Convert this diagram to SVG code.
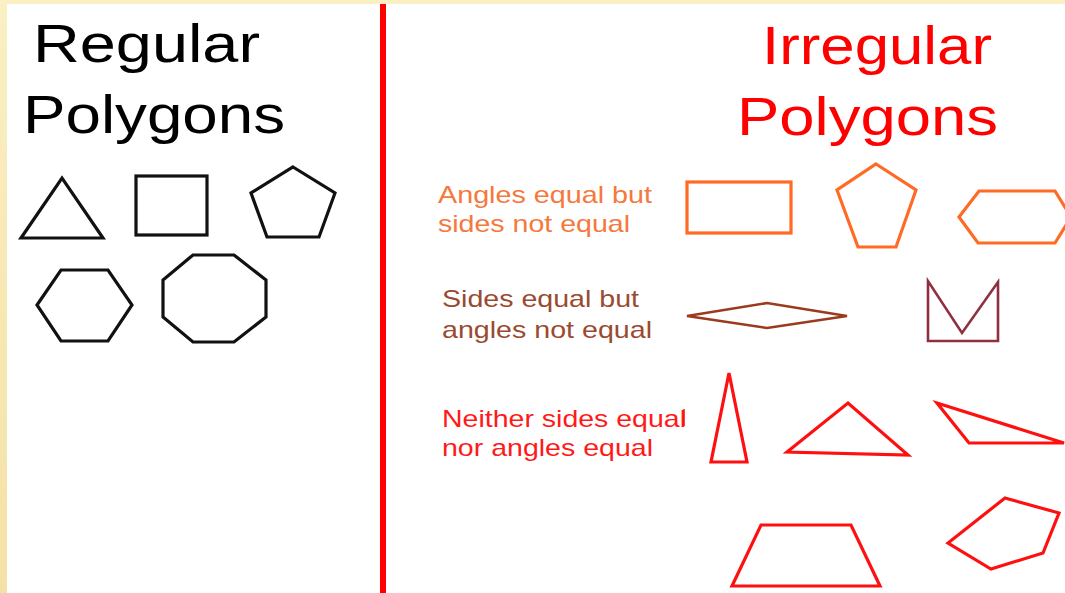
<svg xmlns="http://www.w3.org/2000/svg" width="1065" height="593" viewBox="0 0 1065 593">
<defs>
<linearGradient id="bord" x1="0" y1="0" x2="0" y2="1">
<stop offset="0" stop-color="#FBEFC4"/>
<stop offset="0.5" stop-color="#F7E8B4"/>
<stop offset="1" stop-color="#F3E2A8"/>
</linearGradient>
</defs>
<style>
text{font-family:"Liberation Sans",Arial,sans-serif}
.title{font-size:54px}
.lbl{font-size:24px}
.reg{fill:none;stroke:#111;stroke-width:3.2;stroke-linejoin:miter}
.org{fill:none;stroke:#FF6A24;stroke-width:3.2}
.brn{fill:none;stroke:#9B3A1C;stroke-width:2.6}
.mar{fill:none;stroke:#8E3040;stroke-width:2.6}
.red{fill:none;stroke:#FF1010;stroke-width:3.2}
</style>
<rect x="0" y="0" width="1065" height="593" fill="url(#bord)"/>
<rect x="7" y="4" width="1058" height="589" fill="#FFFFFF"/>
<g id="divider">
<rect x="380" y="4" width="6" height="589" fill="#FF0000"/>
</g>
<g id="regular-title">
<text class="title" x="33" y="62" fill="#000" textLength="227" lengthAdjust="spacingAndGlyphs">Regular</text>
<text class="title" x="23" y="133" fill="#000" textLength="262" lengthAdjust="spacingAndGlyphs">Polygons</text>
</g>
<g id="irregular-title">
<text class="title" x="762" y="64" fill="#FF0000" textLength="230" lengthAdjust="spacingAndGlyphs">Irregular</text>
<text class="title" x="737" y="135" fill="#FF0000" textLength="261" lengthAdjust="spacingAndGlyphs">Polygons</text>
</g>
<g id="regular-shapes">
<polygon class="reg" points="21,238 62,178 103,238"/>
<rect class="reg" x="136" y="176" width="71" height="59"/>
<polygon class="reg" points="293,167 335,193 319,237 267,237 251,193"/>
<polygon class="reg" points="37,305 61,270 108,270 132,305 108,341 61,341"/>
<polygon class="reg" points="193,255 234,255 266,280 266,317 234,342 193,342 163,317 163,280"/>
</g>
<g id="label-angles">
<text class="lbl" x="438" y="203" fill="#F5783C" textLength="214" lengthAdjust="spacingAndGlyphs">Angles equal but</text>
<text class="lbl" x="438" y="232" fill="#F5783C" textLength="192" lengthAdjust="spacingAndGlyphs">sides not equal</text>
</g>
<g id="label-sides">
<text class="lbl" x="442" y="307" fill="#9A4A30" textLength="197" lengthAdjust="spacingAndGlyphs">Sides equal but</text>
<text class="lbl" x="442" y="338" fill="#9A4A30" textLength="210" lengthAdjust="spacingAndGlyphs">angles not equal</text>
</g>
<g id="label-neither">
<text class="lbl" x="442" y="427" fill="#FF1A1A" textLength="244" lengthAdjust="spacingAndGlyphs">Neither sides equal</text>
<text class="lbl" x="442" y="456" fill="#FF1A1A" textLength="211" lengthAdjust="spacingAndGlyphs">nor angles equal</text>
</g>
<g id="equiangular-shapes">
<rect class="org" x="687" y="182" width="104" height="51"/>
<polygon class="org" points="876,164 916,190 896,247 858,247 837,190"/>
<polygon class="org" points="959,217 979,191 1055,191 1071,217 1055,243 978,243"/>
</g>
<g id="equilateral-shapes">
<polygon class="brn" points="687,316 767,303 847,316 767,328"/>
<polygon class="mar" points="928,281 928,341 998,341 998,282 962,333"/>
</g>
<g id="scalene-shapes">
<line x1="684" y1="409" x2="684" y2="426" stroke="#FF1010" stroke-width="1.5"/>
<polygon class="red" points="729,373 747,462 711,462"/>
<polygon class="red" points="787,452 848,403 908,455"/>
<polygon class="red" points="937,403 1064,443 969,443"/>
<polygon class="red" points="761,525 851,525 880,586 732,586"/>
<polygon class="red" points="1005,498 1059,513 1043,553 991,569 948,543"/>
</g>
</svg>
